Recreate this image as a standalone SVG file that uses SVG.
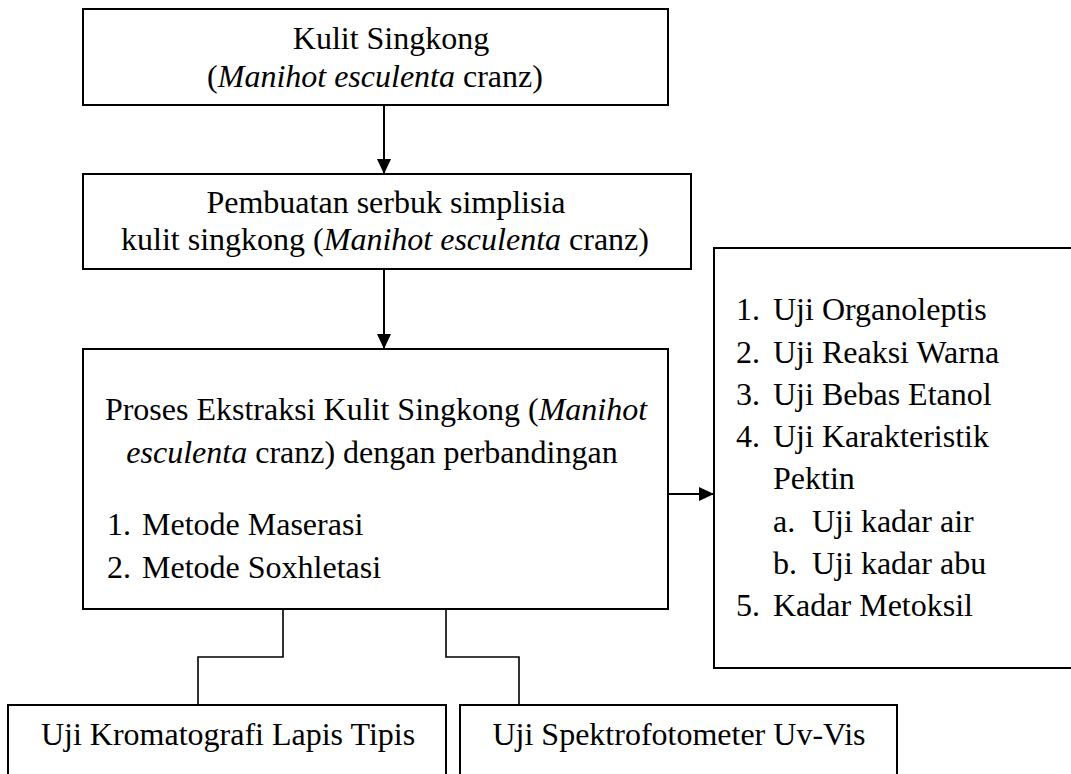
<svg xmlns="http://www.w3.org/2000/svg" width="1071" height="774" viewBox="0 0 1071 774">
  <style>
    .box { fill: #ffffff; stroke: #000000; stroke-width: 2; }
    .t { font-family: "Liberation Serif", "Times New Roman", serif; font-size: 32px; fill: #000000; }
    .m { text-anchor: middle; }
    .i { font-style: italic; }
    .arrow { fill: none; stroke: #000000; stroke-width: 2; }
    .conn { fill: none; stroke: #000000; stroke-width: 1.6; }
  </style>
  <defs>
    <marker id="ah" markerUnits="userSpaceOnUse" markerWidth="16" markerHeight="14" refX="15" refY="7" orient="auto">
      <path d="M0,0 L15,7 L0,14 Z" fill="#000000"/>
    </marker>
  </defs>
  <rect width="1071" height="774" fill="#ffffff"/>

  <g id="connectors">
    <line class="arrow" x1="384" y1="105" x2="384" y2="174" marker-end="url(#ah)"/>
    <line class="arrow" x1="384" y1="269" x2="384" y2="349" marker-end="url(#ah)"/>
    <line class="arrow" x1="668" y1="494" x2="714" y2="494" marker-end="url(#ah)"/>
    <polyline class="conn" points="283,609 283,657 198,657 198,705"/>
    <polyline class="conn" points="446,609 446,657 519,657 519,705"/>
  </g>

  <g id="node-kulit">
    <rect class="box" x="83" y="9" width="585" height="96"/>
    <text class="t m" x="391" y="49">Kulit Singkong</text>
    <text class="t m" x="375" y="87">(<tspan class="i">Manihot esculenta</tspan> cranz)</text>
  </g>

  <g id="node-serbuk">
    <rect class="box" x="83" y="174" width="608" height="95"/>
    <text class="t m" x="386" y="213">Pembuatan serbuk simplisia</text>
    <text class="t m" x="385" y="250">kulit singkong (<tspan class="i">Manihot esculenta</tspan> cranz)</text>
  </g>

  <g id="node-ekstraksi">
    <rect class="box" x="83" y="349" width="585" height="260"/>
    <text class="t m" x="376" y="420">Proses Ekstraksi Kulit Singkong (<tspan class="i">Manihot</tspan></text>
    <text class="t m" x="372" y="463"><tspan class="i">esculenta</tspan> cranz) dengan perbandingan</text>
    <text class="t" x="107" y="535">1.</text>
    <text class="t" x="142" y="535">Metode Maserasi</text>
    <text class="t" x="107" y="578">2.</text>
    <text class="t" x="142" y="578">Metode Soxhletasi</text>
  </g>

  <g id="node-uji">
    <rect class="box" x="714" y="248" width="380" height="420"/>
    <text class="t" x="736" y="320">1.</text>
    <text class="t" x="773" y="320">Uji Organoleptis</text>
    <text class="t" x="736" y="362.5">2.</text>
    <text class="t" x="773" y="362.5">Uji Reaksi Warna</text>
    <text class="t" x="736" y="405">3.</text>
    <text class="t" x="773" y="405">Uji Bebas Etanol</text>
    <text class="t" x="736" y="447">4.</text>
    <text class="t" x="773" y="447">Uji Karakteristik</text>
    <text class="t" x="773" y="489">Pektin</text>
    <text class="t" x="773" y="531.5">a.</text>
    <text class="t" x="812" y="531.5">Uji kadar air</text>
    <text class="t" x="773" y="573.5">b.</text>
    <text class="t" x="812" y="573.5">Uji kadar abu</text>
    <text class="t" x="736" y="616">5.</text>
    <text class="t" x="773" y="616">Kadar Metoksil</text>
  </g>

  <g id="node-klt">
    <rect class="box" x="8" y="705" width="438" height="90"/>
    <text class="t m" x="228" y="745">Uji Kromatografi Lapis Tipis</text>
  </g>

  <g id="node-uvvis">
    <rect class="box" x="460" y="705" width="437" height="90"/>
    <text class="t m" x="679" y="745">Uji Spektrofotometer Uv-Vis</text>
  </g>
</svg>
